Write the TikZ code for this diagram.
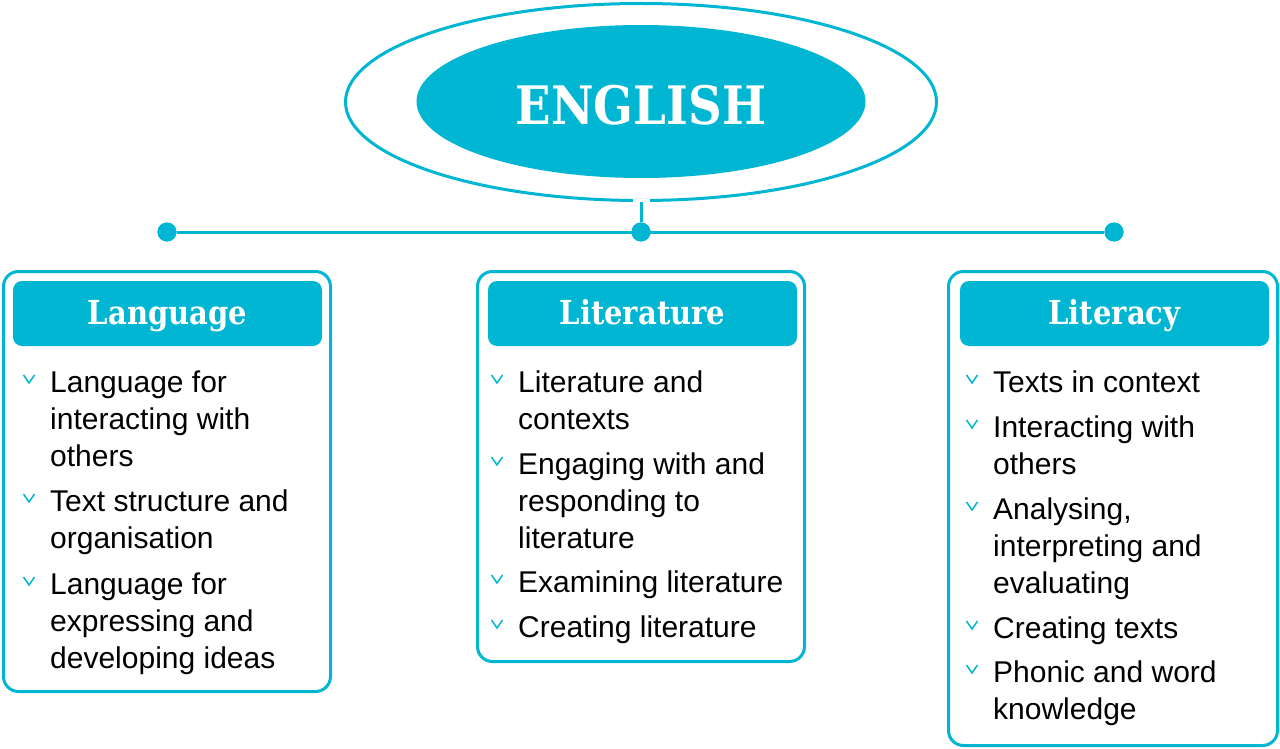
\documentclass[tikz,border=0pt]{standalone}
\usepackage{fontspec}
\setmainfont{Liberation Sans}
\newfontfamily\slabfont[FakeStretch=0.88]{DejaVu Serif}
\usetikzlibrary{shapes.geometric}
\definecolor{eng}{RGB}{0,182,211}
\tikzset{
  panel/.style={draw=eng, line width=3pt, rounded corners=15pt, inner sep=0pt, fill=white},
  head/.style={fill=eng, rounded corners=9pt, minimum width=309pt, minimum height=65pt, inner sep=0pt,
    text=white, font=\slabfont\bfseries\fontsize{33}{33}\selectfont, text height=26pt, text depth=5pt},
  itemtxt/.style={anchor=base west, inner sep=0pt, align=left, font=\fontsize{30}{37}\selectfont},
  conn/.style={draw=eng, line width=3pt},
  dotnode/.style={circle, fill=eng, minimum size=19pt, inner sep=0pt},
  chev/.pic={\draw[eng, line width=1.5pt, line join=miter] (-5.5,-17) -- (0,-9) -- (5.5,-17);}
}
\begin{document}
\begin{tikzpicture}[x=1pt,y=-1pt]
\useasboundingbox[fill=white] (0,0) rectangle (1280,749);

% top ellipses
\node[draw=eng, line width=3pt, ellipse, minimum width=591pt, minimum height=197pt, inner sep=0pt] (outer) at (641,102) {};
\node[fill=eng, ellipse, minimum width=449pt, minimum height=153pt, inner sep=0pt, text=white,
      font=\slabfont\bfseries\fontsize{53}{53}\selectfont, text height=46pt, text depth=0pt] (english) at (641,101.5) {ENGLISH};

% dots and connectors
\node[dotnode] (dl) at (167,232) {};
\node[dotnode] (dm) at (641,232) {};
\node[dotnode] (dr) at (1114,232) {};
\draw[white, line width=6pt] ([xshift=-8.5pt]outer.south) -- ([xshift=8.5pt]outer.south);
\draw[conn] (outer.south) -- (dm);
\draw[conn] (dl) -- (dr);
\node[dotnode] at (dl) {};
\node[dotnode] at (dm) {};
\node[dotnode] at (dr) {};

% panels
\node[panel, minimum width=327pt, minimum height=420pt] (pl) at (167,481.5) {};
\node[panel, minimum width=327pt, minimum height=390pt] (pm) at (641,466.5) {};
\node[panel, minimum width=329pt, minimum height=474pt] (pr) at (1113,508.5) {};

% headers
\node[head] (hl) at (167.5,313.5) {Language};
\node[head] (hm) at (642.5,313.5) {Literature};
\node[head] (hr) at (1114.5,313.5) {Literacy};

% Language items (node anchored at baseline of its last line)
\pic at (29,392) {chev};
\node[itemtxt] (l1) at (50,466) {Language for\\interacting with\\others};
\pic at (29,511) {chev};
\node[itemtxt] (l2) at (50,548) {Text structure and\\organisation};
\pic at (29,594) {chev};
\node[itemtxt] (l3) at (50,668) {Language for\\expressing and\\developing ideas};

% Literature items
\pic at (497,392) {chev};
\node[itemtxt] (m1) at (518,429) {Literature and\\contexts};
\pic at (497,474) {chev};
\node[itemtxt] (m2) at (518,548) {Engaging with and\\responding to\\literature};
\pic at (497,592) {chev};
\node[itemtxt] (m3) at (518,592) {Examining literature};
\pic at (497,637) {chev};
\node[itemtxt] (m4) at (518,637) {Creating literature};

% Literacy items
\pic at (972,392) {chev};
\node[itemtxt] (r1) at (993,392) {Texts in context};
\pic at (972,437) {chev};
\node[itemtxt] (r2) at (993,474) {Interacting with\\others};
\pic at (972,519) {chev};
\node[itemtxt] (r3) at (993,593) {Analysing,\\interpreting and\\evaluating};
\pic at (972,638) {chev};
\node[itemtxt] (r4) at (993,638) {Creating texts};
\pic at (972,682) {chev};
\node[itemtxt] (r5) at (993,719) {Phonic and word\\knowledge};
\end{tikzpicture}
\end{document}
